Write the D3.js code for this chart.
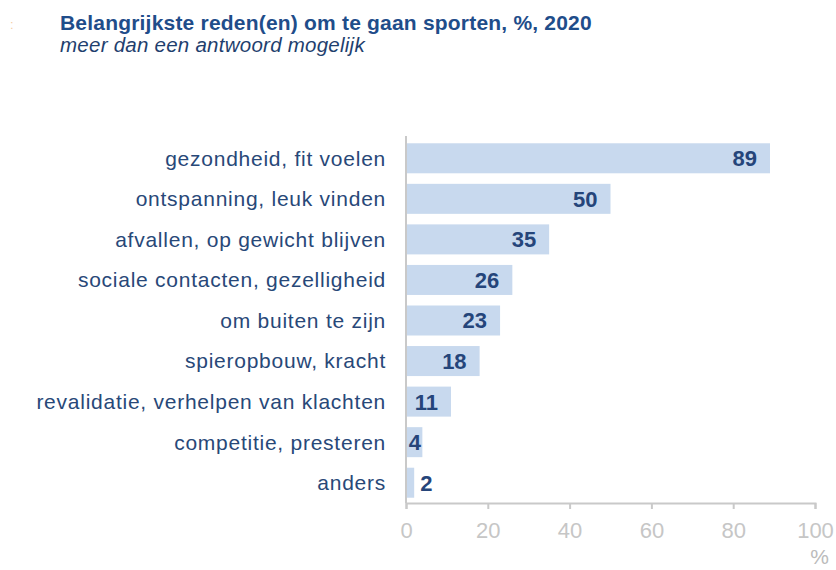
<!DOCTYPE html>
<html>
<head>
<meta charset="utf-8">
<script src="https://cdn.jsdelivr.net/npm/d3@7"></script>
<style>
  body { margin: 0; background: #fff; }
  svg { display: block; font-family: Arial, "Liberation Sans", sans-serif; }
</style>
</head>
<body>
<svg id="chart" width="836" height="570"></svg>
<script>
const categories = [
  "gezondheid, fit voelen",
  "ontspanning, leuk vinden",
  "afvallen, op gewicht blijven",
  "sociale contacten, gezelligheid",
  "om buiten te zijn",
  "spieropbouw, kracht",
  "revalidatie, verhelpen van klachten",
  "competitie, presteren",
  "anders"
];
const values = [89, 50, 35, 26, 23, 18, 11, 4, 2];
const xTicks = [0, 20, 40, 60, 80, 100];

(function drawChart() {
  const svg = d3.select("#chart");
  const plotLeft = 406, plotRight = 815, plotTop = 138, plotBottom = 503;

  const x = d3.scaleLinear().domain([0, 100]).range([plotLeft, plotRight]);
  const y = d3.scaleBand().domain(categories).range([plotTop, plotBottom])
    .paddingInner(0.26).paddingOuter(0.13);

  // title block
  svg.append("text").attr("x", 10).attr("y", 29).attr("fill", "#f6cfa6")
    .attr("font-size", 13).text(":");
  svg.append("text").attr("x", 60).attr("y", 30).attr("fill", "#1f4d8a")
    .attr("font-size", 21).attr("font-weight", "bold").attr("letter-spacing", 0.2)
    .text("Belangrijkste reden(en) om te gaan sporten, %, 2020");
  svg.append("text").attr("x", 60).attr("y", 52).attr("fill", "#1f3f6e")
    .attr("font-size", 20.5).attr("font-style", "italic").attr("letter-spacing", 0.25)
    .text("meer dan een antwoord mogelijk");

  // bars
  svg.append("g").selectAll("rect").data(values).join("rect")
    .attr("x", x(0))
    .attr("y", (d, i) => y(categories[i]))
    .attr("width", d => x(d) - x(0))
    .attr("height", y.bandwidth())
    .attr("fill", "#c8d9ee");

  // category labels
  svg.append("g").selectAll("text").data(categories).join("text")
    .attr("x", 386)
    .attr("y", d => y(d) + y.bandwidth() / 2)
    .attr("dy", "0.35em")
    .attr("text-anchor", "end")
    .attr("fill", "#284878")
    .attr("font-size", 21)
    .attr("letter-spacing", 0.75)
    .text(d => d);

  // value labels: inside the bar end, or just past it when the bar is too short
  const fits = d => x(d) - x(0) > 14;
  svg.append("g").selectAll("text").data(values).join("text")
    .attr("x", d => fits(d) ? Math.max(x(d) - 13, x(0) + 15) : x(d) + 6)
    .attr("text-anchor", d => fits(d) ? "end" : "start")
    .attr("y", (d, i) => y(categories[i]) + y.bandwidth() / 2)
    .attr("dy", "0.36em")
    .attr("fill", "#25457a")
    .attr("font-size", 22)
    .attr("font-weight", "bold")
    .text(d => d);

  // axes
  const axisColor = "#c9c9c9";
  svg.append("line").attr("x1", plotLeft).attr("x2", plotLeft)
    .attr("y1", 136).attr("y2", plotBottom)
    .attr("stroke", axisColor).attr("stroke-width", 2);

  const xAxis = svg.append("g").attr("transform", `translate(0,${plotBottom})`)
    .call(d3.axisBottom(x).tickValues(xTicks).tickSize(6).tickPadding(13));
  xAxis.select(".domain").attr("stroke", axisColor).attr("stroke-width", 2);
  xAxis.selectAll(".tick line").attr("stroke", axisColor).attr("stroke-width", 2);
  xAxis.selectAll(".tick text").attr("fill", "#c6c6c6").attr("font-size", 22)
    .attr("font-family", "Arial, 'Liberation Sans', sans-serif");

  svg.append("text").attr("x", 829).attr("y", 564).attr("text-anchor", "end")
    .attr("fill", "#bbbbbb").attr("font-size", 21).text("%");
})();
</script>
</body>
</html>
